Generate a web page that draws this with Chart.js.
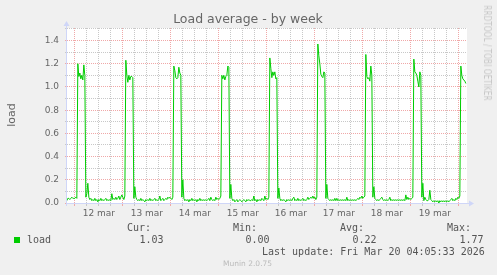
<!DOCTYPE html>
<html>
<head>
<meta charset="utf-8">
<script src="https://cdn.jsdelivr.net/npm/chart.js@4.4.1/dist/chart.umd.min.js"></script>
<style>
  html, body { margin: 0; padding: 0; background: #f0f0f0; }
  #wrap { position: relative; width: 497px; height: 275px; overflow: hidden; font-family: 'DejaVu Sans', sans-serif; color: #666; }
  #wrap canvas { position: absolute; left: 0; top: 0; }
  .t { position: absolute; white-space: pre; line-height: 1; }
  .mono { font-family: 'DejaVu Sans Mono', monospace; font-size: 10px; color: #555; }
</style>
</head>
<body>
<div id="wrap">
  <canvas id="chart" width="497" height="275"></canvas>
  <div class="t" id="title" style="left:248px;top:19px;font-size:12.5px;transform:translate(-50%,-50%);"></div>
  <div class="t" id="ylabel" style="left:10.5px;top:115px;font-size:11px;transform:translate(-50%,-50%) rotate(-90deg);"></div>
  <div class="t" id="mark" style="left:486.5px;top:52.5px;font-size:10px;color:#c8c8c8;transform:translate(-50%,-50%) rotate(90deg) scaleX(0.74);"></div>
  <div id="swatch" style="position:absolute;left:14px;top:237px;width:6px;height:6px;background:#00cc00;"></div>
  <div id="legend"></div>
  <div class="t" id="munin" style="left:223px;top:260px;font-size:7.5px;color:#bbb;"></div>
</div>
<script>
const titleText = 'Load average - by week';
const axisTitle = 'load';
const seriesName = 'load';
const watermark = 'RRDTOOL / TOBI OETIKER';
const footer = 'Munin 2.0.75';
const lastUpdate = 'Last update: Fri Mar 20 04:05:33 2026';
const statLabels = ['Cur:', 'Min:', 'Avg:', 'Max:'];
const statValues = ['1.03', '0.00', '0.22', '1.77'];

const dayLabels = ['12 mar', '13 mar', '14 mar', '15 mar', '16 mar', '17 mar', '18 mar', '19 mar'];
const yTickLabels = ['0.0', '0.2', '0.4', '0.6', '0.8', '1.0', '1.2', '1.4'];

// half-hourly load samples; mar11 starts at 20:00, the others at 00:00
const mar11 = [0.02, 0.04, 0.04, 0.03, 0.04, 0.05, 0.04, 0.04];
const mar12 = [0.04, 0.05, 0.04, 1.20, 1.09, 1.12, 1.07, 1.10, 1.06, 1.19, 1.10, 0.05, 0.08, 0.17, 0.05, 0.03,
  0.04, 0.02, 0.03, 0.02, 0.04, 0.02, 0.03, 0.01, 0.03, 0.02, 0.04, 0.02, 0.03, 0.02, 0.03, 0.04,
  0.02, 0.03, 0.02, 0.03, 0.02, 0.08, 0.03, 0.04, 0.03, 0.05, 0.03, 0.04, 0.06, 0.03, 0.05, 0.07];
const mar13 = [0.05, 0.03, 0.06, 1.23, 1.10, 1.04, 1.10, 1.06, 1.09, 1.09, 1.08, 0.04, 0.14, 0.05, 0.03, 0.02,
  0.03, 0.02, 0.04, 0.02, 0.03, 0.02, 0.01, 0.03, 0.02, 0.03, 0.02, 0.04, 0.02, 0.03, 0.02, 0.03,
  0.04, 0.02, 0.03, 0.02, 0.03, 0.06, 0.02, 0.03, 0.04, 0.02, 0.03, 0.04, 0.03, 0.05, 0.04, 0.05];
const mar14 = [0.04, 0.03, 0.05, 1.18, 1.14, 1.08, 1.07, 1.08, 1.17, 1.12, 1.10, 0.05, 0.20, 0.04, 0.02, 0.03,
  0.02, 0.03, 0.01, 0.03, 0.02, 0.04, 0.02, 0.03, 0.02, 0.03, 0.01, 0.03, 0.02, 0.04, 0.02, 0.03,
  0.02, 0.03, 0.02, 0.03, 0.02, 0.03, 0.04, 0.02, 0.05, 0.03, 0.02, 0.03, 0.02, 0.05, 0.03, 0.04];
const mar15 = [0.03, 0.04, 0.06, 1.10, 1.07, 1.10, 1.06, 1.09, 1.10, 1.18, 1.17, 0.04, 0.16, 0.04, 0.02, 0.03,
  0.01, 0.02, 0.03, 0.01, 0.02, 0.03, 0.02, 0.01, 0.02, 0.03, 0.02, 0.01, 0.03, 0.02, 0.03, 0.02,
  0.02, 0.03, 0.02, 0.06, 0.02, 0.03, 0.01, 0.03, 0.02, 0.03, 0.02, 0.04, 0.03, 0.02, 0.06, 0.03];
const mar16 = [0.04, 0.03, 0.05, 1.25, 1.16, 1.08, 1.13, 1.10, 1.13, 1.07, 1.08, 0.04, 0.13, 0.04, 0.02, 0.03,
  0.02, 0.03, 0.02, 0.01, 0.03, 0.02, 0.03, 0.02, 0.03, 0.02, 0.04, 0.05, 0.02, 0.03, 0.02, 0.04,
  0.02, 0.03, 0.02, 0.03, 0.04, 0.02, 0.03, 0.02, 0.03, 0.05, 0.03, 0.04, 0.05, 0.04, 0.06, 0.04];
const mar17 = [0.05, 0.03, 0.05, 1.37, 1.27, 1.20, 1.11, 1.09, 1.08, 1.13, 1.12, 0.04, 0.16, 0.04, 0.03, 0.02,
  0.03, 0.02, 0.03, 0.02, 0.04, 0.02, 0.04, 0.02, 0.03, 0.02, 0.03, 0.02, 0.03, 0.02, 0.03, 0.02,
  0.05, 0.02, 0.03, 0.02, 0.03, 0.02, 0.03, 0.02, 0.03, 0.02, 0.03, 0.04, 0.03, 0.05, 0.04, 0.06];
const mar18 = [0.04, 0.05, 0.06, 1.28, 1.09, 1.07, 1.08, 1.05, 1.18, 1.10, 0.05, 0.14, 0.04, 0.03, 0.02, 0.03,
  0.02, 0.03, 0.04, 0.05, 0.03, 0.02, 0.03, 0.02, 0.03, 0.02, 0.03, 0.05, 0.02, 0.03, 0.02, 0.03,
  0.02, 0.03, 0.02, 0.03, 0.02, 0.03, 0.02, 0.03, 0.02, 0.03, 0.02, 0.07, 0.03, 0.05, 0.03, 0.04];
const mar19 = [0.03, 0.04, 0.05, 1.24, 1.13, 1.12, 1.10, 1.05, 1.00, 1.13, 1.10, 0.05, 0.17, 0.02, 0.05, 0.03,
  0.02, 0.02, 0.03, 0.11, 0.03, 0.02, 0.01, 0.02, 0.01, 0.02, 0.01, 0.02, 0.00, 0.02, 0.01, 0.02,
  0.01, 0.02, 0.01, 0.02, 0.01, 0.02, 0.01, 0.02, 0.03, 0.04, 0.02, 0.03, 0.02, 0.04, 0.03, 0.05];
const mar20 = [0.04, 0.06, 1.18, 1.10, 1.07, 1.06, 1.05, 1.03];

const days = [mar11, mar12, mar13, mar14, mar15, mar16, mar17, mar18, mar19, mar20];

// x is hours since Mar 11 00:00
const points = [];
days.forEach((vals, d) => {
  const start = d === 0 ? 20 : d * 24;
  vals.forEach((v, k) => points.push({ x: start + k * 0.5, y: v }));
});

const xMin = 20 + 5 / 60;
const xMax = xMin + 200;
const yMax = 1.508;

const majorGrid = '#f0a8a8';
const minorGrid = '#c8c8c8';
const axisColor = '#cfd6f8';

document.getElementById('title').textContent = titleText;
document.getElementById('ylabel').textContent = axisTitle;
document.getElementById('mark').textContent = watermark;
document.getElementById('munin').textContent = footer;

const legend = document.getElementById('legend');
function addText(txt, left, top) {
  const el = document.createElement('div');
  el.className = 't mono';
  el.style.left = left + 'px';
  el.style.top = top + 'px';
  el.textContent = txt;
  legend.appendChild(el);
}
const statX = [127, 233, 340, 447];
statLabels.forEach((s, i) => addText(s, statX[i], 223));
statValues.forEach((s, i) => addText(s, statX[i] + 12.5, 234.5));
addText(seriesName, 27, 234.5);
addText(lastUpdate, 262, 246.5);

const plotDecor = {
  id: 'plotDecor',
  beforeDraw(chart) {
    const { ctx, chartArea: a } = chart;
    ctx.save();
    ctx.fillStyle = '#ffffff';
    ctx.fillRect(a.left, a.top, a.right - a.left, a.bottom - a.top);
    ctx.restore();
  },
  afterDatasetsDraw(chart) {
    const { ctx, chartArea: a } = chart;
    ctx.save();
    ctx.strokeStyle = axisColor;
    ctx.fillStyle = axisColor;
    ctx.lineWidth = 1;
    ctx.beginPath();
    ctx.moveTo(a.left - 0.5, a.bottom + 3);
    ctx.lineTo(a.left - 0.5, a.top - 3);
    ctx.moveTo(a.left - 1, a.bottom + 0.5);
    ctx.lineTo(a.right + 3, a.bottom + 0.5);
    ctx.stroke();
    // arrow heads
    ctx.beginPath();
    ctx.moveTo(a.left - 3.5, a.top - 2);
    ctx.lineTo(a.left + 2.5, a.top - 2);
    ctx.lineTo(a.left - 0.5, a.top - 7);
    ctx.closePath();
    ctx.fill();
    ctx.beginPath();
    ctx.moveTo(a.right + 2, a.bottom - 2.5);
    ctx.lineTo(a.right + 2, a.bottom + 3.5);
    ctx.lineTo(a.right + 7, a.bottom + 0.5);
    ctx.closePath();
    ctx.fill();
    ctx.restore();
  }
};

const tickFont = { family: 'DejaVu Sans', size: 9 };

new Chart(document.getElementById('chart'), {
  type: 'line',
  data: {
    datasets: [{
      label: seriesName,
      data: points,
      borderColor: '#00cc00',
      borderWidth: 1,
      pointRadius: 0,
      tension: 0,
      fill: false
    }]
  },
  options: {
    responsive: false,
    animation: false,
    devicePixelRatio: 1,
    layout: { padding: { top: 28, right: 30, bottom: 52, left: 0 } },
    plugins: { legend: { display: false }, tooltip: { enabled: false } },
    scales: {
      x: {
        type: 'linear',
        min: xMin,
        max: xMax,
        afterBuildTicks: scale => {
          const ticks = [];
          for (let t = 24; t <= xMax; t += 6) ticks.push({ value: t });
          scale.ticks = ticks;
        },
        afterFit: scale => { scale.height = 20; },
        ticks: {
          autoSkip: false,
          maxRotation: 0,
          padding: 2,
          color: '#666',
          font: tickFont,
          callback: v => (v % 24 === 12 ? dayLabels[(v - 36) / 24] : '')
        },
        grid: {
          color: c => (c.tick && c.tick.value % 24 === 0 ? majorGrid : minorGrid),
          lineWidth: 1,
          tickLength: 3
        },
        border: { display: false, dash: [1, 1] }
      },
      y: {
        min: 0,
        max: yMax,
        afterBuildTicks: scale => {
          scale.ticks = yTickLabels.flatMap((_, i) => [{ value: i * 0.2 }, { value: i * 0.2 + 0.1 }]);
        },
        afterFit: scale => { scale.width = 67; },
        ticks: {
          autoSkip: false,
          padding: 6,
          color: '#666',
          font: tickFont,
          callback: (v, i) => (i % 2 === 0 ? yTickLabels[i / 2] : '')
        },
        grid: {
          color: c => (c.index % 2 === 0 ? majorGrid : minorGrid),
          lineWidth: 1,
          tickLength: 2
        },
        border: { display: false, dash: [1, 1] }
      }
    }
  },
  plugins: [plotDecor]
});
</script>
</body>
</html>
